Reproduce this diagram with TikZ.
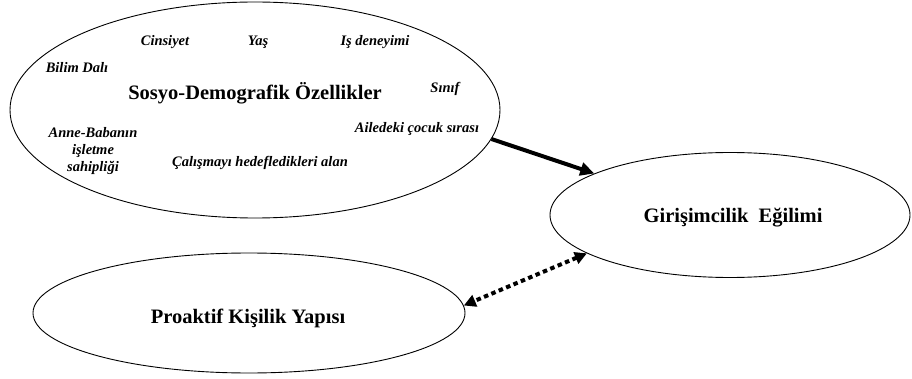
\documentclass[tikz,border=0pt]{standalone}
\usepackage{fontspec}
\setmainfont{Liberation Serif}
\usetikzlibrary{shapes.geometric,arrows.meta}
\begin{document}
\begin{tikzpicture}[x=1pt,y=-1pt,
  oval/.style={draw,ellipse,line width=0.9pt,inner sep=0pt},
  item/.style={font=\fontsize{14.5}{16}\selectfont\bfseries\itshape,inner sep=0pt,align=center},
  title/.style={font=\fontsize{20.5}{23}\selectfont\bfseries,inner sep=0pt},
  solidarrow/.style={line width=4pt,-{Triangle[length=14pt,width=13pt]}},
  dotarrow/.style={line width=4pt,dash pattern=on 4.5pt off 3.5pt,{Triangle[length=12pt,width=12pt]}-{Triangle[length=12pt,width=12pt]}}]
\useasboundingbox (0,0) rectangle (912,379);
\node[oval,minimum width=490pt,minimum height=216pt] (s) at (255,110) {};
\node[oval,minimum width=360pt,minimum height=125pt] (g) at (730,215) {};
\node[oval,minimum width=432pt,minimum height=120pt] (p) at (249,313) {};
\node[item] (cin) at (165,42) {Cinsiyet};
\node[item] (yas) at (258,42) {Yaş};
\node[item] (is) at (375,42) {Iş deneyimi};
\node[item] (bil) at (77,68) {Bilim Dalı};
\node[title] (sosyo) at (255,93) {Sosyo-Demografik Özellikler};
\node[item] (sin) at (445,89) {Sınıf};
\node[item] (aile) at (417,129) {Ailedeki çocuk sırası};
\node[item,font=\fontsize{14.5}{17}\selectfont\bfseries\itshape] (anne) at (93,151) {Anne-Babanın\\işletme\\sahipliği};
\node[item] (cal) at (260,163) {Çalışmayı hedefledikleri alan};
\node[title] (gir) at (733,218) {Girişimcilik\ \ Eğilimi};
\node[title] (pro) at (248,318) {Proaktif Kişilik Yapısı};
\draw[solidarrow] (s.-7.8) -- (g.163.3);
\draw[dotarrow] (g.195) -- (p.2.9);
\end{tikzpicture}
\end{document}
